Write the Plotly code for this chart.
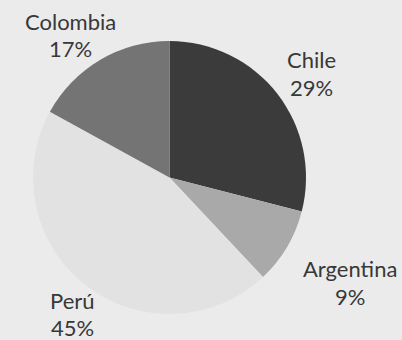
import plotly.graph_objects as go

countries = ["Chile", "Argentina", "Perú", "Colombia"]
shares = [29, 9, 45, 17]
colors = ["#3b3b3b", "#a9a9a9", "#e2e2e2", "#747474"]

# label centres (px) for name line and percent line
label_pos = {
    "Chile": (311, 59, 87),
    "Argentina": (350, 268, 296),
    "Perú": (72, 300, 327),
    "Colombia": (70, 21, 49),
}

W, H = 402, 340

fig = go.Figure()
fig.add_trace(go.Pie(
    labels=countries,
    values=shares,
    sort=False,
    direction="clockwise",
    rotation=0,
    marker=dict(colors=colors, line=dict(width=0)),
    textinfo="none",
    hoverinfo="label+percent",
    showlegend=False,
    domain=dict(x=[32 / W, 307 / W], y=[(H - 314) / H, (H - 41) / H]),
))

font = dict(family="Lato, Open Sans, sans-serif", size=22, color="#383838")
for c, v in zip(countries, shares):
    x, y1, y2 = label_pos[c]
    for txt, yy in [(c, y1), (f"{v}%", y2)]:
        fig.add_annotation(
            x=x / W, y=1 - yy / H, xref="paper", yref="paper",
            text=txt, showarrow=False, font=font,
            xanchor="center", yanchor="middle",
        )

fig.update_layout(
    width=W, height=H,
    margin=dict(l=0, r=0, t=0, b=0),
    paper_bgcolor="#ebebeb",
    plot_bgcolor="#ebebeb",
)

fig.write_html(
    "out.html",
    config={"displayModeBar": False},
    post_script="document.body.style.margin='0';",
)
